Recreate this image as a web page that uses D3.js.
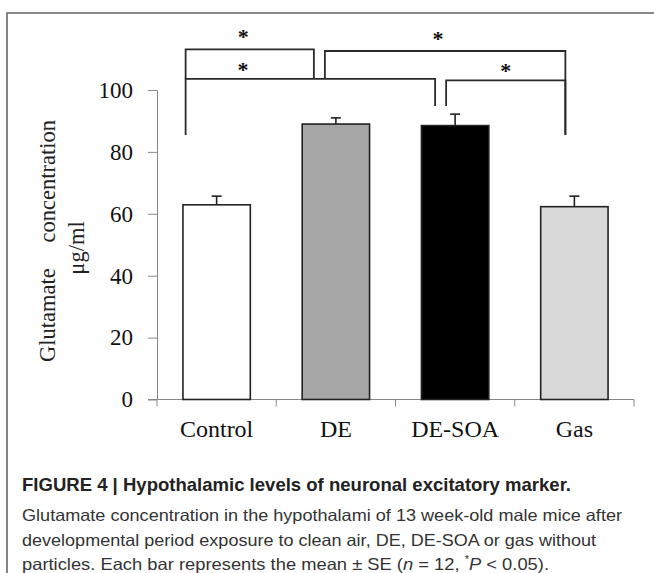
<!DOCTYPE html>
<html>
<head>
<meta charset="utf-8">
<script src="https://cdnjs.cloudflare.com/ajax/libs/d3/7.8.5/d3.min.js"></script>
<style>
  body { margin: 0; background: #fff; }
  svg { display: block; }
</style>
</head>
<body>
<div id="chart"></div>
<script>
// Data
const groups = ['Control', 'DE', 'DE-SOA', 'Gas'];
const means = [62.9, 89.0, 88.5, 62.3];
const errors = [2.8, 2.0, 3.7, 3.4];
const fills = ['#ffffff', '#a6a6a6', '#000000', '#d9d9d9'];
const yTicks = [0, 20, 40, 60, 80, 100];

// Significance brackets: pair, bar height level, leg ends (left, right)
const pairs = [['Control', 'DE-SOA'], ['DE-SOA', 'Gas'], ['Control', 'DE'], ['DE', 'Gas']];
const levels = [103.6, 103.1, 113.1, 112.6];
const leftEnds = [85.5, 94.8, 103.6, 103.6];
const rightEnds = [94.8, 85.5, 103.6, 85.5];

const captionTitle = 'FIGURE 4 | Hypothalamic levels of neuronal excitatory marker.';
const captionLines = [
  'Glutamate concentration in the hypothalami of 13 week-old male mice after',
  'developmental period exposure to clean air, DE, DE-SOA or gas without'
];

const W = 654, H = 573;
const svg = d3.select('#chart').append('svg')
  .attr('width', W)
  .attr('height', H);

// Frame around the figure
svg.append('path')
  .attr('d', `M7,${H} V13 H${W}`)
  .attr('fill', 'none')
  .attr('stroke', '#666')
  .attr('stroke-width', 1.6);

// Scales
const x = d3.scaleBand()
  .domain(groups)
  .range([157, 634])
  .padding(0);

const y = d3.scaleLinear()
  .domain([0, 100])
  .range([399.5, 90]);

const serif = '"Liberation Serif", "Times New Roman", serif';

// Y axis
const yAxis = svg.append('g')
  .attr('transform', 'translate(157,0)')
  .call(d3.axisLeft(y).tickValues(yTicks).tickSize(9).tickPadding(15).tickSizeOuter(0));
yAxis.select('.domain').attr('stroke', '#888');
yAxis.selectAll('.tick line').attr('stroke', '#888');
yAxis.selectAll('.tick text')
  .attr('font-family', serif)
  .attr('font-size', 23)
  .attr('fill', '#111');

// X axis with ticks at group boundaries
const xAxis = svg.append('g')
  .attr('transform', `translate(0,${y(0)})`);
xAxis.append('line')
  .attr('x1', 148).attr('x2', x.range()[1])
  .attr('stroke', '#888');
xAxis.selectAll('.bound')
  .data(groups.concat(['end']))
  .enter()
  .append('line')
  .attr('class', 'bound')
  .attr('x1', (d, i) => i < groups.length ? x(d) : x.range()[1])
  .attr('x2', (d, i) => i < groups.length ? x(d) : x.range()[1])
  .attr('y1', 0).attr('y2', 7)
  .attr('stroke', '#888');
xAxis.selectAll('.lab')
  .data(groups)
  .enter()
  .append('text')
  .attr('class', 'lab')
  .attr('x', d => x(d) + x.bandwidth() / 2)
  .attr('y', 37)
  .attr('text-anchor', 'middle')
  .attr('font-family', serif)
  .attr('font-size', 24)
  .attr('fill', '#111')
  .text(d => d);

// Y axis title
const yTitle = svg.append('g').attr('font-family', serif).attr('font-size', 22.5).attr('fill', '#222');
yTitle.append('text')
  .attr('transform', 'translate(55,241) rotate(-90)')
  .attr('text-anchor', 'middle')
  .attr('word-spacing', 20)
  .text('Glutamate concentration');
yTitle.append('text')
  .attr('transform', 'translate(84,248) rotate(-90)')
  .attr('text-anchor', 'middle')
  .text('μg/ml');

// Bars
const barW = x.bandwidth() * 0.565;
const cx = d => x(d) + x.bandwidth() / 2;

svg.selectAll('.bar')
  .data(groups)
  .enter()
  .append('rect')
  .attr('class', 'bar')
  .attr('x', d => cx(d) - barW / 2)
  .attr('y', (d, i) => y(means[i]))
  .attr('width', barW)
  .attr('height', (d, i) => y(0) - y(means[i]))
  .attr('fill', (d, i) => fills[i])
  .attr('stroke', '#222')
  .attr('stroke-width', 1.6);

// Error bars (upper only)
const err = svg.selectAll('.err')
  .data(groups)
  .enter()
  .append('g')
  .attr('class', 'err')
  .attr('stroke', '#222')
  .attr('stroke-width', 1.6);
err.append('line')
  .attr('x1', d => cx(d)).attr('x2', d => cx(d))
  .attr('y1', (d, i) => y(means[i]))
  .attr('y2', (d, i) => y(means[i] + errors[i]));
err.append('line')
  .attr('x1', d => cx(d) - 5).attr('x2', d => cx(d) + 5)
  .attr('y1', (d, i) => y(means[i] + errors[i]))
  .attr('y2', (d, i) => y(means[i] + errors[i]));

// Bracket legs sit left of each bar centre
const legOffset = {
  'Control': [-31, -31],
  'DE': [-11, -22],
  'DE-SOA': [-9, -20],
  'Gas': [-9, -9]
};
const starFrac = [0.23, 0.5, 0.45, 0.47];
const starLift = [-2, -2, -5, -5];

const br = svg.selectAll('.bracket')
  .data(pairs)
  .enter()
  .append('g')
  .attr('class', 'bracket');

br.append('path')
  .attr('d', (p, i) => {
    const x1 = cx(p[0]) + legOffset[p[0]][0];
    const x2 = cx(p[1]) + legOffset[p[1]][1];
    return `M${x1},${y(leftEnds[i])} V${y(levels[i])} H${x2} V${y(rightEnds[i])}`;
  })
  .attr('fill', 'none')
  .attr('stroke', '#2a2a2a')
  .attr('stroke-width', 1.8);

br.append('text')
  .attr('x', (p, i) => {
    const x1 = cx(p[0]) + legOffset[p[0]][0];
    const x2 = cx(p[1]) + legOffset[p[1]][1];
    return x1 + (x2 - x1) * starFrac[i];
  })
  .attr('y', (p, i) => y(levels[i]) + starLift[i])
  .attr('text-anchor', 'middle')
  .attr('font-family', serif)
  .attr('font-weight', 'bold')
  .attr('font-size', 22)
  .attr('fill', '#111')
  .text('*');

// Caption
const sans = '"Liberation Sans", Arial, Helvetica, sans-serif';
svg.append('text')
  .attr('x', 22).attr('y', 491)
  .attr('font-family', sans)
  .attr('font-weight', 'bold')
  .attr('font-size', 18.5)
  .attr('fill', '#222')
  .attr('textLength', 549)
  .attr('lengthAdjust', 'spacingAndGlyphs')
  .text(captionTitle);

const lineEnds = [600, 574];
captionLines.forEach((t, i) => {
  svg.append('text')
    .attr('x', 22).attr('y', 521 + i * 24.5)
    .attr('font-family', sans)
    .attr('font-size', 16.5)
    .attr('fill', '#333')
    .attr('textLength', lineEnds[i])
    .attr('lengthAdjust', 'spacingAndGlyphs')
    .text(t);
});

const last = svg.append('text')
  .attr('x', 22).attr('y', 570)
  .attr('font-family', sans)
  .attr('font-size', 16.5)
  .attr('fill', '#333')
  .attr('textLength', 527)
  .attr('lengthAdjust', 'spacingAndGlyphs');
last.append('tspan').text('particles. Each bar represents the mean \u00b1 SE (');
last.append('tspan').attr('font-style', 'italic').text('n');
last.append('tspan').text(' = 12, ');
last.append('tspan').attr('font-size', 10).attr('dy', -7).text('*');
last.append('tspan').attr('font-style', 'italic').attr('dy', 7).text('P');
last.append('tspan').text(' < 0.05).');
</script>
</body>
</html>
